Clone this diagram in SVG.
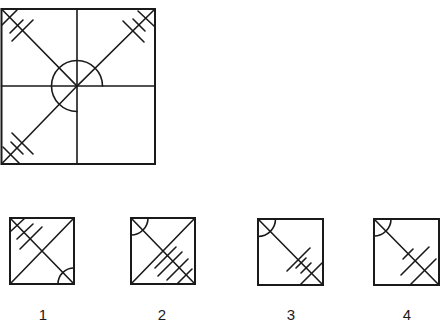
<svg xmlns="http://www.w3.org/2000/svg" width="440" height="324" viewBox="0 0 440 324">
<style>
.frame{fill:none;stroke:#1a1a1a;stroke-width:2}
.ln{fill:none;stroke:#1a1a1a;stroke-width:1.6;stroke-linecap:round}
.lbl{font-family:"Liberation Sans",Arial,sans-serif;font-size:15px;fill:#1a1a1a;text-anchor:middle}
</style>
<rect width="440" height="324" fill="#ffffff"/>
<g id="main">
<rect class="frame" x="1.5" y="9" width="153.5" height="155"/>
<path class="ln" d="M77,9V164M1.5,86H155"/>
<path class="ln" d="M1.5,9L77,86L155,9M77,86L1.5,164"/>
<path class="ln" d="M102.5,86A25.5,25.5 0 1 0 77,111.5"/>
<path class="ln" d="M2,25L17,10M10,33L23,20M12,41L33,20"/>
<path class="ln" d="M138,11L154,26M133,19L145,31M123,21L144,42"/>
<path class="ln" d="M3,147L20,164M11,142L23,154M12,133L33,154"/>
</g>
<g id="option1">
<rect class="frame" x="10" y="218" width="64" height="66"/>
<path class="ln" d="M10,218L74,284M10,284L74,218"/>
<path class="ln" d="M58,284A16,16 0 0 1 74,268"/>
<path class="ln" d="M11,231L25,218M17,239L33,224M20,249L42,227"/>
<text class="lbl" x="43" y="320">1</text>
</g>
<g id="option2">
<rect class="frame" x="131" y="218" width="64" height="66"/>
<path class="ln" d="M131,218L195,284M131,284L195,218"/>
<path class="ln" d="M148,218A17,17 0 0 1 131,235"/>
<path class="ln" d="M177,284L192,269M167,280L188,259M158,276L182,252M155,268L176,247"/>
<text class="lbl" x="162" y="320">2</text>
</g>
<g id="option3">
<rect class="frame" x="258" y="219" width="65" height="66"/>
<path class="ln" d="M258,219L323,285"/>
<path class="ln" d="M275.5,219A17.5,17.5 0 0 1 258,236.5"/>
<path class="ln" d="M300,285L322,263M296,268L306,258M301,273L311,263M287,271L310,248"/>
<text class="lbl" x="291" y="320">3</text>
</g>
<g id="option4">
<rect class="frame" x="374" y="219" width="65" height="66"/>
<path class="ln" d="M374,219L439,285"/>
<path class="ln" d="M391,219A17,17 0 0 1 374,236"/>
<path class="ln" d="M403,259L413,249M401,275L429,247M410,285L436,259"/>
<text class="lbl" x="407" y="320">4</text>
</g>
</svg>
